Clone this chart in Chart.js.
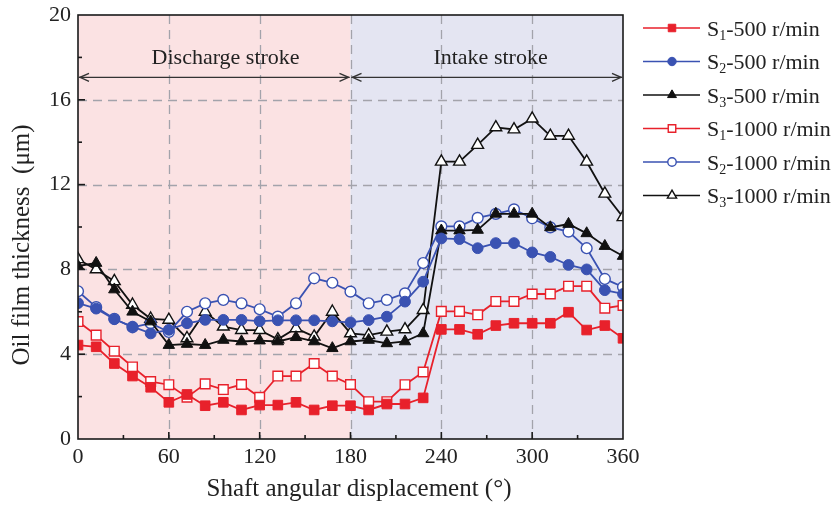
<!DOCTYPE html>
<html>
<head>
<meta charset="utf-8">
<script src="https://cdn.jsdelivr.net/npm/chart.js@4.4.1/dist/chart.umd.min.js"></script>
<style>
  html, body { margin: 0; padding: 0; background: #ffffff; }
  #wrap { width: 836px; height: 506px; }
</style>
</head>
<body>
<div id="wrap"><canvas id="filmChart" width="836" height="506"></canvas></div>
<script>
// --- Data (shaft angle every 12 degrees) --- //
const angles = [0, 12, 24, 36, 48, 60, 72, 84, 96, 108, 120, 132, 144, 156, 168, 180,
    192, 204, 216, 228, 240, 252, 264, 276, 288, 300, 312, 324, 336, 348, 360];

const s1_500 = [4.43, 4.35, 3.56, 2.97, 2.44, 1.73, 2.1, 1.57, 1.73, 1.37, 1.6, 1.6, 1.73, 1.37, 1.57, 1.57,
    1.37, 1.65, 1.65, 1.94, 5.17, 5.17, 4.94, 5.35, 5.46, 5.46, 5.46, 5.98, 5.14, 5.35, 4.75];
const s2_500 = [6.41, 6.15, 5.65, 5.3, 4.98, 5.15, 5.46, 5.62, 5.62, 5.62, 5.56, 5.6, 5.6, 5.6, 5.55, 5.5,
    5.61, 5.77, 6.48, 7.42, 9.46, 9.43, 9.0, 9.24, 9.24, 8.8, 8.59, 8.21, 8.0, 7.02, 6.84];
const s3_500 = [8.16, 8.3, 7.05, 6.0, 5.54, 4.43, 4.48, 4.43, 4.67, 4.6, 4.64, 4.6, 4.8, 4.6, 4.28, 4.6,
    4.67, 4.51, 4.6, 4.98, 9.83, 9.83, 9.86, 10.62, 10.62, 10.62, 9.98, 10.14, 9.7, 9.1, 8.63];
const s1_1000 = [5.54, 4.9, 4.14, 3.4, 2.71, 2.56, 1.97, 2.6, 2.33, 2.57, 1.97, 2.97, 2.97, 3.56, 2.97, 2.57,
    1.76, 1.76, 2.56, 3.16, 6.02, 6.02, 5.86, 6.49, 6.49, 6.84, 6.84, 7.21, 7.21, 6.17, 6.3];
const s2_1000 = [6.97, 6.22, 5.67, 5.27, 5.46, 5.05, 6.0, 6.4, 6.56, 6.4, 6.12, 5.77, 6.4, 7.58, 7.37, 6.95,
    6.4, 6.56, 6.87, 8.3, 10.03, 10.03, 10.43, 10.62, 10.83, 10.41, 9.98, 9.78, 9.0, 7.55, 7.17];
const s3_1000 = [8.48, 8.0, 7.44, 6.33, 5.67, 5.62, 4.75, 6.0, 5.3, 5.14, 5.14, 4.7, 5.22, 4.83, 6.0, 4.98,
    4.9, 5.06, 5.17, 6.08, 13.08, 13.08, 13.87, 14.7, 14.6, 15.11, 14.3, 14.3, 13.08, 11.57, 10.46];

const seriesLabels = ['-500 r/min', '-500 r/min', '-500 r/min', '-1000 r/min', '-1000 r/min', '-1000 r/min'];
const seriesSubs = ['1', '2', '3', '1', '2', '3'];
const strokeLabels = ['Discharge stroke', 'Intake stroke'];
const xTicks = [0, 60, 120, 180, 240, 300, 360];
const yTicks = [0, 4, 8, 12, 16, 20];

const RED = '#e8212b';
const BLUE = '#3a52b2';
const BLACK = '#111111';
const SERIF = '"Liberation Serif", "Times New Roman", serif';

function makeSet(label, data, color, style, filled, radius) {
    return {
        label: label,
        data: data.map((v, i) => ({ x: angles[i], y: v })),
        borderColor: color,
        borderWidth: 1.8,
        pointStyle: style,
        pointRadius: radius,
        pointBorderWidth: filled ? 1 : 1.4,
        pointBorderColor: color,
        pointBackgroundColor: filled ? color : '#ffffff',
        tension: 0
    };
}

const datasets = [
    makeSet('S1-500 r/min', s1_500, RED, 'rect', true, 6.8),
    makeSet('S2-500 r/min', s2_500, BLUE, 'circle', true, 5.4),
    makeSet('S3-500 r/min', s3_500, BLACK, 'triangle', true, 6.6),
    makeSet('S1-1000 r/min', s1_1000, RED, 'rect', false, 6.8),
    makeSet('S2-1000 r/min', s2_1000, BLUE, 'circle', false, 5.4),
    makeSet('S3-1000 r/min', s3_1000, BLACK, 'triangle', false, 6.8)
];

// Shading, dashed grid and stroke arrows, drawn under the lines
const backdropPlugin = {
    id: 'backdrop',
    beforeDatasetsDraw(chart) {
        const { ctx, chartArea: a, scales: { x, y } } = chart;
        const mid = x.getPixelForValue(180);
        ctx.save();
        ctx.fillStyle = '#fbe2e3';
        ctx.fillRect(a.left, a.top, mid - a.left, a.bottom - a.top);
        ctx.fillStyle = '#e4e5f2';
        ctx.fillRect(mid, a.top, a.right - mid, a.bottom - a.top);

        ctx.strokeStyle = '#a3a3ab';
        ctx.lineWidth = 1.3;
        ctx.setLineDash([9, 6]);
        xTicks.slice(1, -1).forEach(v => {
            const px = Math.round(x.getPixelForValue(v)) + 0.5;
            ctx.beginPath(); ctx.moveTo(px, a.top); ctx.lineTo(px, a.bottom); ctx.stroke();
        });
        yTicks.slice(1, -1).forEach(v => {
            const py = Math.round(y.getPixelForValue(v)) + 0.5;
            ctx.beginPath(); ctx.moveTo(a.left, py); ctx.lineTo(a.right, py); ctx.stroke();
        });
        ctx.setLineDash([]);

        // double-headed arrows for the two strokes
        const ay = y.getPixelForValue(17.06);
        ctx.strokeStyle = '#333333';
        ctx.lineWidth = 1.4;
        const arrow = (x1, x2) => {
            ctx.beginPath(); ctx.moveTo(x1, ay); ctx.lineTo(x2, ay); ctx.stroke();
            ctx.beginPath();
            ctx.moveTo(x1 + 10, ay - 4); ctx.lineTo(x1 + 1, ay); ctx.lineTo(x1 + 10, ay + 4);
            ctx.moveTo(x2 - 10, ay - 4); ctx.lineTo(x2 - 1, ay); ctx.lineTo(x2 - 10, ay + 4);
            ctx.stroke();
        };
        arrow(a.left + 1, mid - 1);
        arrow(mid + 1, a.right - 1);

        ctx.fillStyle = '#222222';
        ctx.font = '22px ' + SERIF;
        ctx.textAlign = 'center';
        ctx.textBaseline = 'middle';
        ctx.fillText(strokeLabels[0], x.getPixelForValue(97.5), y.getPixelForValue(17.95));
        ctx.fillText(strokeLabels[1], x.getPixelForValue(272.5), y.getPixelForValue(17.95));
        ctx.restore();
    }
};

// Frame, inward ticks, axis titles and the legend
const overlayPlugin = {
    id: 'overlay',
    afterDraw(chart) {
        const { ctx, chartArea: a, scales: { x, y } } = chart;
        ctx.save();
        ctx.strokeStyle = '#1a1a1a';
        ctx.lineWidth = 1.6;
        ctx.strokeRect(a.left, a.top, a.right - a.left, a.bottom - a.top);

        ctx.lineWidth = 1.6;
        for (let v = 30; v < 360; v += 30) {
            const px = x.getPixelForValue(v);
            const len = v % 60 === 0 ? 7 : 4;
            ctx.beginPath(); ctx.moveTo(px, a.bottom); ctx.lineTo(px, a.bottom - len); ctx.stroke();
        }
        for (let v = 2; v < 20; v += 2) {
            const py = y.getPixelForValue(v);
            const len = v % 4 === 0 ? 7 : 4;
            ctx.beginPath(); ctx.moveTo(a.left, py); ctx.lineTo(a.left + len, py); ctx.stroke();
        }

        ctx.fillStyle = '#222222';
        ctx.font = '25px ' + SERIF;
        ctx.textAlign = 'center';
        ctx.textBaseline = 'middle';
        ctx.fillText('Shaft angular displacement (\u00b0)', 359, 489);
        ctx.save();
        ctx.translate(22, 245);
        ctx.rotate(-Math.PI / 2);
        ctx.fillText('Oil film thickness  (\u03bcm)', 0, 0);
        ctx.restore();

        // legend with subscripted S
        chart.data.datasets.forEach((ds, i) => {
            const ly = 28 + i * 33.5;
            ctx.strokeStyle = ds.borderColor;
            ctx.lineWidth = 1.6;
            ctx.beginPath(); ctx.moveTo(643, ly); ctx.lineTo(700, ly); ctx.stroke();
            ctx.fillStyle = ds.pointBackgroundColor;
            ctx.strokeStyle = ds.pointBorderColor;
            ctx.lineWidth = ds.pointBorderWidth;
            Chart.helpers.drawPoint(ctx, {
                pointStyle: ds.pointStyle, radius: ds.pointRadius * 0.78,
                rotation: 0, borderWidth: ds.pointBorderWidth
            }, 672, ly);

            ctx.fillStyle = '#222222';
            ctx.textAlign = 'left';
            ctx.textBaseline = 'alphabetic';
            let tx = 707;
            const base = ly + 7.5;
            ctx.font = '22px ' + SERIF;
            ctx.fillText('S', tx, base);
            tx += ctx.measureText('S').width;
            ctx.font = '14px ' + SERIF;
            ctx.fillText(seriesSubs[i], tx, base + 4);
            tx += ctx.measureText(seriesSubs[i]).width;
            ctx.font = '22px ' + SERIF;
            ctx.fillText(seriesLabels[i], tx, base);
        });
        ctx.restore();
    }
};

new Chart(document.getElementById('filmChart'), {
    type: 'line',
    data: { datasets: datasets },
    options: {
        responsive: false,
        animation: false,
        layout: { padding: { top: 15, right: 213, left: 0, bottom: 0 } },
        plugins: { legend: { display: false }, tooltip: { enabled: false } },
        scales: {
            x: {
                type: 'linear', min: 0, max: 360,
                afterFit: s => { s.height = 67; s.paddingLeft = 0; s.paddingRight = 0; },
                afterBuildTicks: s => { s.ticks = xTicks.map(v => ({ value: v })); },
                grid: { display: false, drawTicks: false },
                border: { display: false },
                ticks: { padding: 5, color: '#222222', font: { family: SERIF, size: 22 } }
            },
            y: {
                min: 0, max: 20,
                afterFit: s => { s.width = 78; s.paddingTop = 0; s.paddingBottom = 0; },
                afterBuildTicks: s => { s.ticks = yTicks.map(v => ({ value: v })); },
                grid: { display: false, drawTicks: false },
                border: { display: false },
                ticks: { padding: 7, color: '#222222', font: { family: SERIF, size: 22 } }
            }
        }
    },
    plugins: [backdropPlugin, overlayPlugin]
});
</script>
</body>
</html>
